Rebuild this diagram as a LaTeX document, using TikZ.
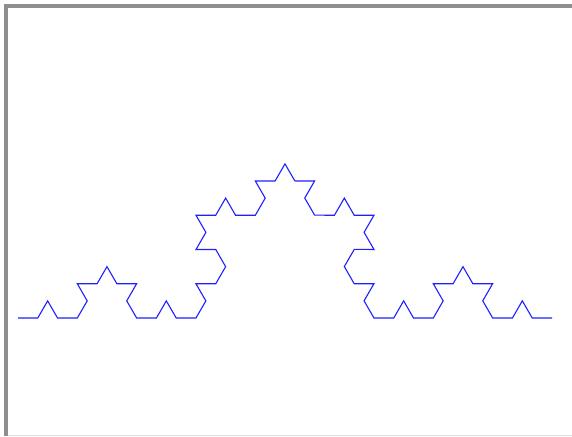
\documentclass[tikz,border=0pt]{standalone}
\usetikzlibrary{decorations.fractals}
\definecolor{frame}{HTML}{8E8E8E}
\definecolor{kochblue}{HTML}{2020FF}
\tikzset{koch/.style={draw=kochblue,line width=1.1pt,line join=miter,decoration=Koch snowflake}}
\begin{document}
\begin{tikzpicture}[x=1pt,y=1pt]
\useasboundingbox (0,0) rectangle (572,436);
\fill[white] (0,0) rectangle (572,436);
% frame
\fill[frame] (4,0) rectangle (7.5,431);
\fill[frame] (4,428) rectangle (572,431.5);
\fill[gray!25] (7.5,0) rectangle (572,1);
% Koch curve
\coordinate (s) at (18,118);
\coordinate (e) at (552,118);
\path[koch] decorate{ decorate{ decorate{ (s) -- (e) }}};
\end{tikzpicture}
\end{document}
